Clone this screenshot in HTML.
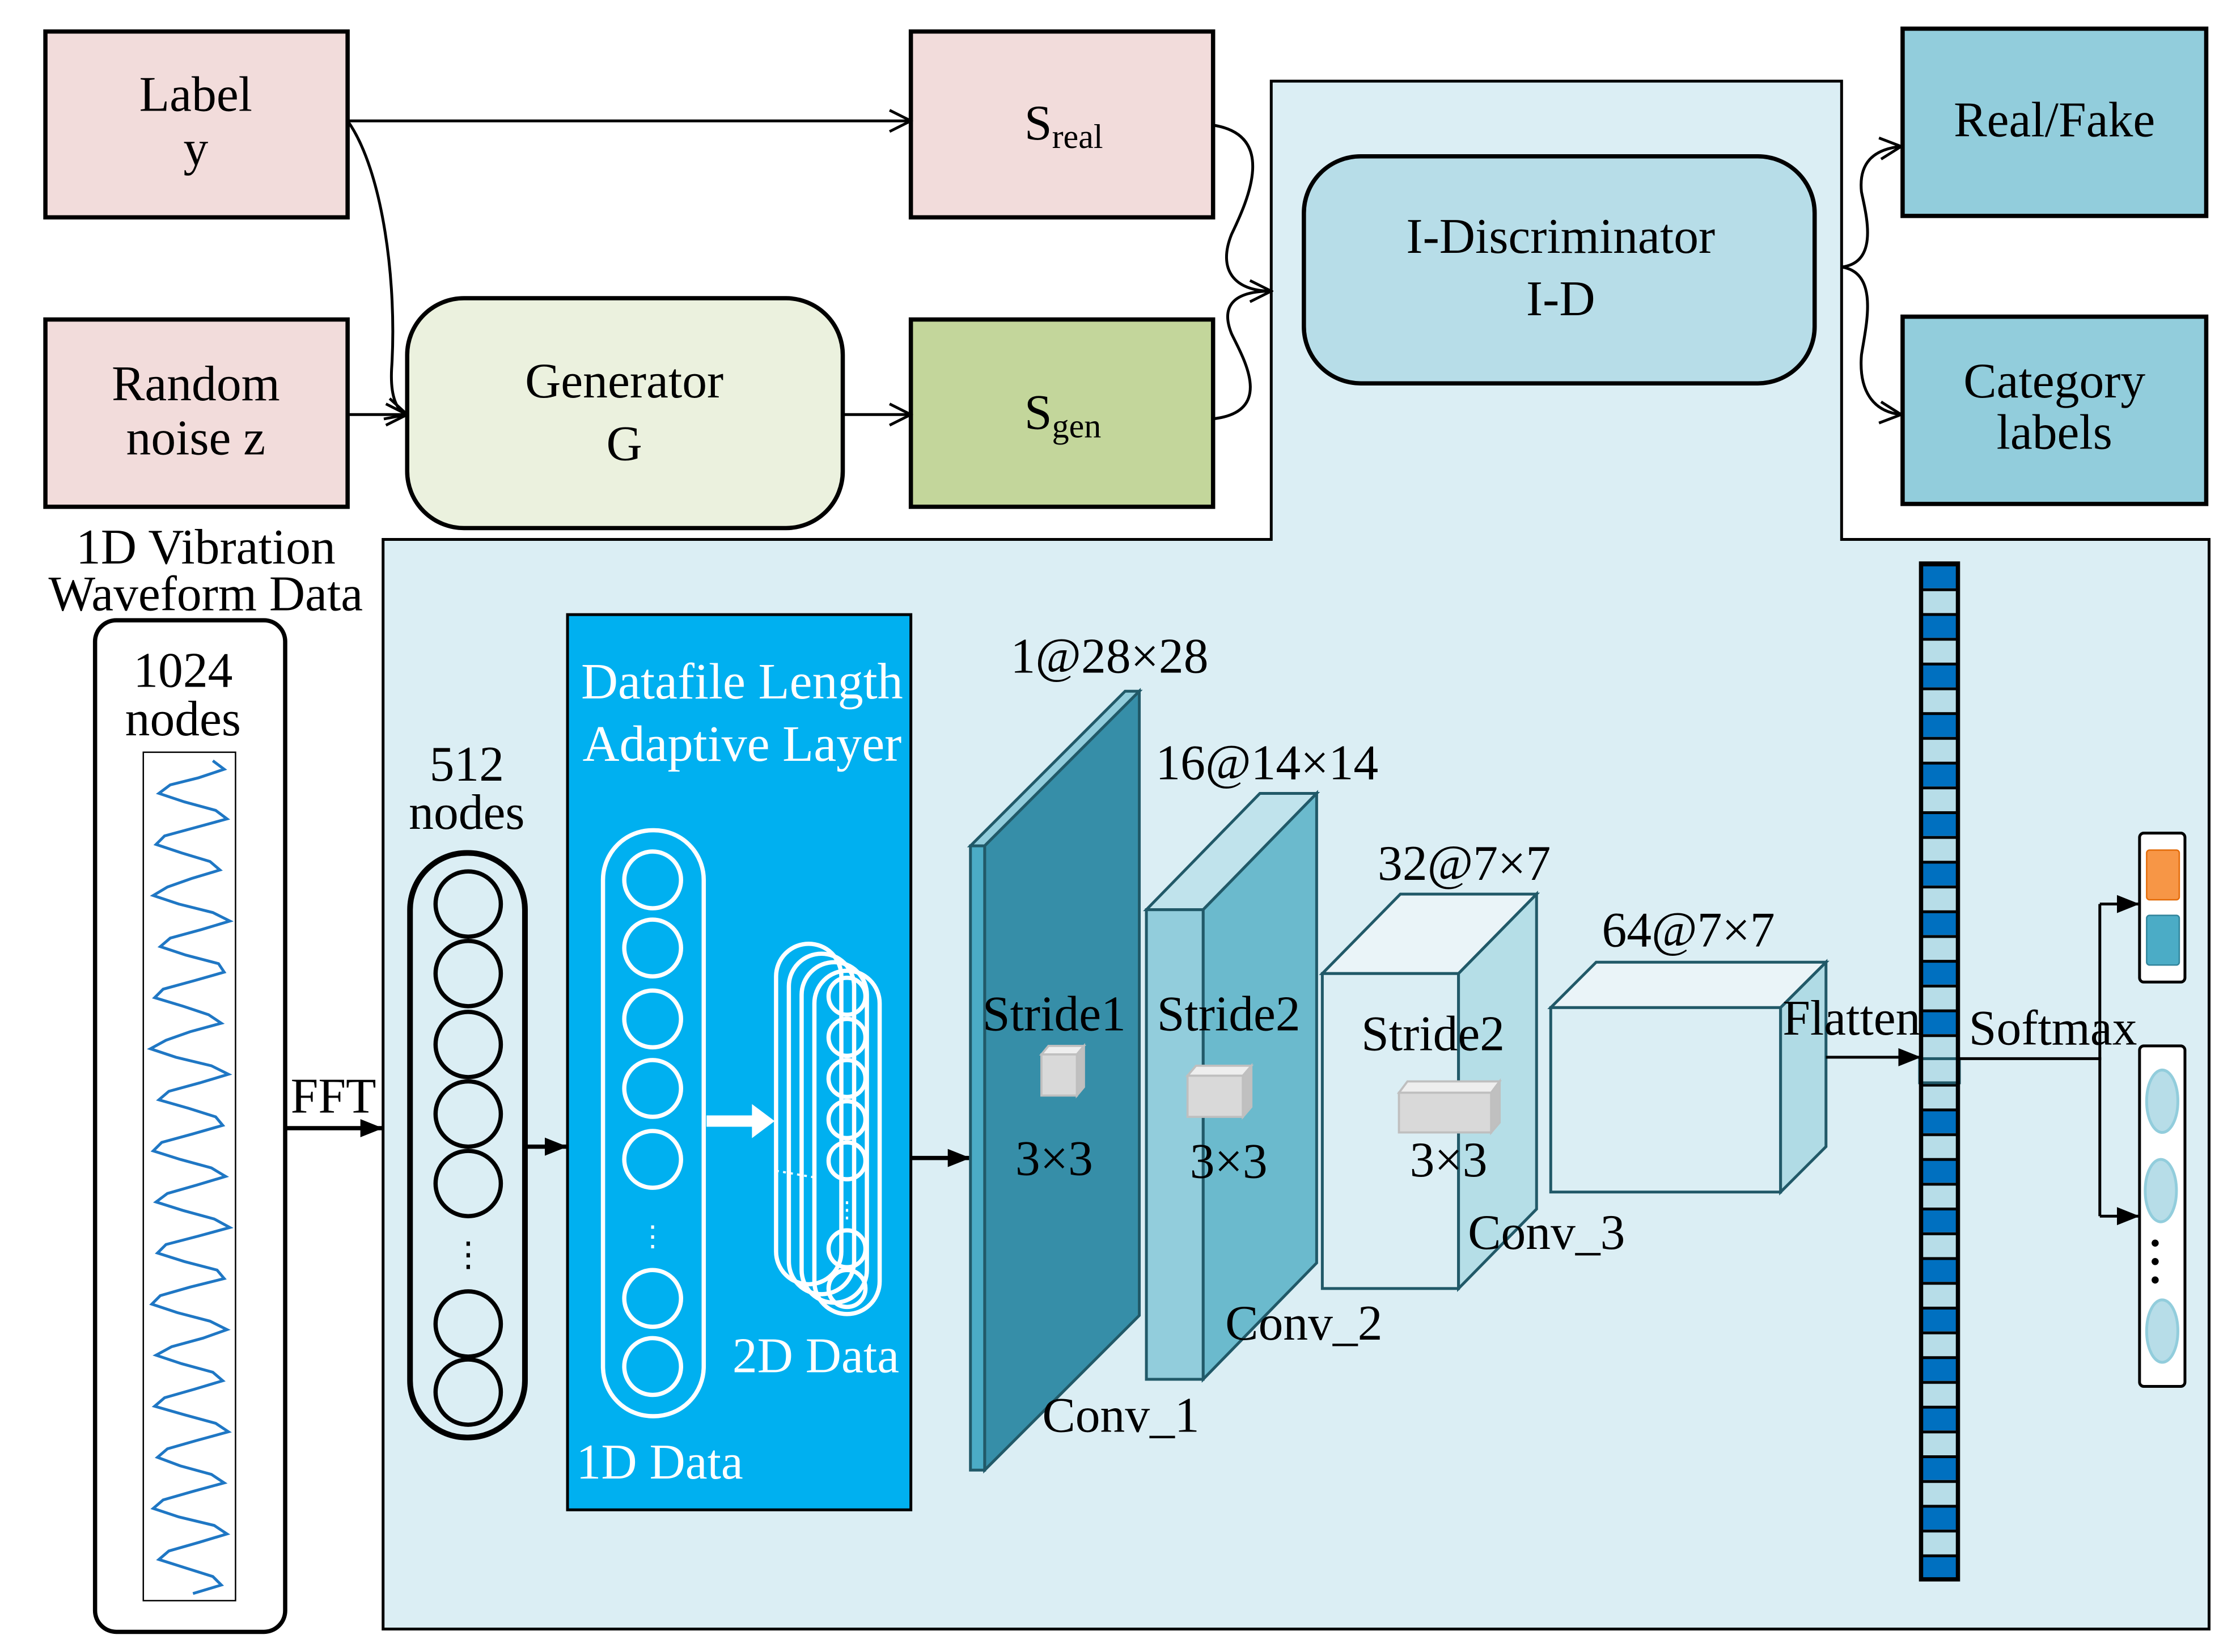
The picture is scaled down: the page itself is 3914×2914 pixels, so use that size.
<!DOCTYPE html>
<html><head><meta charset="utf-8"><style>
html,body{margin:0;padding:0;background:#fff}
svg{display:block}
text{font-family:"Liberation Serif",serif;fill:#000}
</style></head><body>
<svg width="3914" height="2914" viewBox="0 0 1564 1164" xmlns="http://www.w3.org/2000/svg">
<defs>
<marker id="ah2" viewBox="0 0 10 10" refX="10" refY="5" markerWidth="16" markerHeight="16" markerUnits="userSpaceOnUse" orient="auto"><path d="M0,1L10,5L0,9z" fill="#000"/></marker>
<marker id="oa" viewBox="0 0 12 12" refX="11" refY="6" markerWidth="18" markerHeight="18" markerUnits="userSpaceOnUse" orient="auto"><path d="M1,1L11,6L1,11" fill="none" stroke="#000" stroke-width="1.3"/></marker>
<pattern id="cells" patternUnits="userSpaceOnUse" x="1354" y="397" width="26" height="34.92">
<rect x="0" y="0" width="26" height="17.46" fill="#0070c0"/>
<rect x="0" y="17.46" width="26" height="17.46" fill="#b7dde8"/>
<rect x="0" y="0" width="26" height="2" fill="#000"/>
<rect x="0" y="17.46" width="26" height="2" fill="#000"/>
</pattern>
</defs>
<rect width="1564" height="1164" fill="#fff"/>
<path d="M896,57H1298V380H1557V1148H270V380H896Z" fill="#dbeef4" stroke="#000" stroke-width="2"/>
<rect x="32" y="22" width="213" height="131" fill="#f2dcdb" stroke="#000" stroke-width="3"/>
<text x="138" y="78" font-size="35" text-anchor="middle">Label</text>
<text x="138" y="116" font-size="35" text-anchor="middle">y</text>
<rect x="32" y="225" width="213" height="132" fill="#f2dcdb" stroke="#000" stroke-width="3"/>
<text x="138" y="282" font-size="35" text-anchor="middle">Random</text>
<text x="138" y="320" font-size="35" text-anchor="middle">noise z</text>
<rect x="287" y="210" width="307" height="162" rx="40" fill="#ebf1de" stroke="#000" stroke-width="3"/>
<text x="440" y="280" font-size="35" text-anchor="middle">Generator</text>
<text x="440" y="324" font-size="35" text-anchor="middle">G</text>
<rect x="642" y="22" width="213" height="131" fill="#f2dcdb" stroke="#000" stroke-width="3"/>
<text x="722" y="98" font-size="35">S<tspan font-size="24" dy="6">real</tspan></text>
<rect x="642" y="225" width="213" height="132" fill="#c3d69b" stroke="#000" stroke-width="3"/>
<text x="722" y="302" font-size="35">S<tspan font-size="24" dy="6">gen</tspan></text>
<rect x="919" y="110" width="360" height="160" rx="40" fill="#b7dde8" stroke="#000" stroke-width="3"/>
<text x="1100" y="178" font-size="35" text-anchor="middle">I-Discriminator</text>
<text x="1100" y="222" font-size="35" text-anchor="middle">I-D</text>
<rect x="1341" y="20" width="214" height="132" fill="#92cddc" stroke="#000" stroke-width="3"/>
<text x="1448" y="96" font-size="35" text-anchor="middle">Real/Fake</text>
<rect x="1341" y="223" width="214" height="132" fill="#92cddc" stroke="#000" stroke-width="3"/>
<text x="1448" y="280" font-size="35" text-anchor="middle">Category</text>
<text x="1448" y="316" font-size="35" text-anchor="middle">labels</text>
<g fill="none" stroke="#000" stroke-width="2">
<line x1="245" y1="85" x2="642" y2="85" marker-end="url(#oa)"/>
<path d="M245,85 C270,120 280,200 276,260 C275,280 280,290 287,292" marker-end="url(#oa)"/>
<line x1="245" y1="292" x2="287" y2="292" marker-end="url(#oa)"/>
<line x1="594" y1="292" x2="642" y2="292" marker-end="url(#oa)"/>
<path d="M855,88 C900,95 880,140 868,165 C858,190 870,205 896,205" marker-end="url(#oa)"/>
<path d="M855,295 C900,290 875,250 868,235 C860,215 870,205 896,205"/>
<path d="M1298,188 C1325,185 1315,150 1312,135 C1310,115 1320,105 1340,103" marker-end="url(#oa)"/>
<path d="M1298,188 C1325,192 1315,230 1312,250 C1310,275 1320,290 1340,292" marker-end="url(#oa)"/>
</g>
<text x="145" y="397" font-size="35" text-anchor="middle">1D Vibration</text>
<text x="145" y="430" font-size="35" text-anchor="middle">Waveform Data</text>
<rect x="67" y="437" width="134" height="713" rx="15" fill="#fff" stroke="#000" stroke-width="3"/>
<text x="129" y="484" font-size="35" text-anchor="middle">1024</text>
<text x="129" y="518" font-size="35" text-anchor="middle">nodes</text>
<rect x="101" y="530" width="65" height="598" fill="#fff" stroke="#000" stroke-width="1"/>
<polyline fill="none" stroke="#1f77c4" stroke-width="2" points="150,536 158,542 140,548 120,553 112,559 130,565 152,571 160,577 138,583 116,589 110,595 128,601 148,607 155,613 135,619 118,625 108,631 126,637 150,643 162,649 142,655 120,661 113,667 131,673 154,679 158,685 137,691 115,697 109,703 129,709 147,715 156,721 134,727 117,733 106,739 124,745 149,751 161,757 141,763 119,769 112,775 133,781 152,787 157,793 136,799 114,805 108,811 127,817 149,823 159,829 139,835 118,841 110,847 129,853 151,859 162,865 140,871 117,877 111,883 130,889 153,895 158,901 134,907 113,913 107,919 125,925 148,931 160,937 143,943 121,949 110,955 128,961 150,967 157,973 137,979 116,985 109,991 130,997 152,1003 161,1009 139,1015 118,1021 111,1027 127,1033 149,1039 158,1045 136,1051 115,1057 108,1063 126,1069 151,1075 160,1081 140,1087 119,1093 112,1099 131,1105 150,1111 156,1117 136,1123"/>
<line x1="201" y1="795" x2="270" y2="795" stroke="#000" stroke-width="3" marker-end="url(#ah2)"/>
<text x="235" y="784" font-size="35" text-anchor="middle">FFT</text>
<text x="329" y="550" font-size="35" text-anchor="middle">512</text>
<text x="329" y="584" font-size="35" text-anchor="middle">nodes</text>
<rect x="289" y="601" width="81" height="412" rx="40" fill="none" stroke="#000" stroke-width="4"/>
<g fill="none" stroke="#000" stroke-width="3">
<circle cx="330" cy="637" r="23"/><circle cx="330" cy="686" r="23"/><circle cx="330" cy="736" r="23"/><circle cx="330" cy="785" r="23"/><circle cx="330" cy="834" r="23"/><circle cx="330" cy="933" r="23"/><circle cx="330" cy="981" r="23"/>
</g>
<text x="330" y="892" font-size="24" text-anchor="middle">⋮</text>
<line x1="370" y1="808" x2="400" y2="808" stroke="#000" stroke-width="3" marker-end="url(#ah2)"/>
<rect x="400" y="433" width="242" height="631" fill="#00b0f0" stroke="#000" stroke-width="2"/>
<text x="523" y="492" font-size="36" text-anchor="middle" style="fill:#fff">Datafile Length</text>
<text x="523" y="536" font-size="36" text-anchor="middle" style="fill:#fff">Adaptive Layer</text>
<g fill="none" stroke="#fff" stroke-width="3">
<rect x="425" y="585" width="71" height="413" rx="35"/>
<circle cx="460" cy="620" r="20"/><circle cx="460" cy="668" r="20"/><circle cx="460" cy="718" r="20"/><circle cx="460" cy="767" r="20"/><circle cx="460" cy="817" r="20"/><circle cx="460" cy="915" r="20"/><circle cx="460" cy="963" r="20"/>
<rect x="547" y="665" width="46" height="240" rx="23"/>
<rect x="556" y="672" width="46" height="240" rx="23"/>
<rect x="565" y="678" width="46" height="240" rx="23"/>
<rect x="574" y="684" width="46" height="242" rx="23"/>
<circle cx="597" cy="702" r="13"/><circle cx="597" cy="731" r="13"/><circle cx="597" cy="760" r="13"/><circle cx="597" cy="789" r="13"/><circle cx="597" cy="818" r="13"/><circle cx="597" cy="880" r="13"/><circle cx="597" cy="908" r="13"/>
</g>
<line x1="547" y1="825" x2="576" y2="830" stroke="#fff" stroke-width="1.5" stroke-dasharray="2,3"/>
<text x="460" y="878" font-size="20" text-anchor="middle" style="fill:#fff">⋮</text>
<text x="597" y="858" font-size="16" text-anchor="middle" style="fill:#fff">⋮</text>
<path d="M498,786H530V778L546,790L530,802V794H498Z" fill="#fff"/>
<text x="575" y="967" font-size="35" text-anchor="middle" style="fill:#fff">2D Data</text>
<text x="465" y="1042" font-size="35" text-anchor="middle" style="fill:#fff">1D Data</text>
<line x1="642" y1="816" x2="684" y2="816" stroke="#000" stroke-width="3" marker-end="url(#ah2)"/>
<g stroke="#215968" stroke-width="2">
<path d="M684,596L793,487H803L694,596Z" fill="#92cddc"/>
<path d="M694,596L803,487V927L694,1036Z" fill="#368ea8"/>
<rect x="684" y="596" width="10" height="440" fill="#4bacc6"/>
<path d="M808,641L888,559H928L848,641Z" fill="#c0e3ec"/>
<path d="M848,641L928,559V890L848,972Z" fill="#6bbacd"/>
<rect x="808" y="641" width="40" height="331" fill="#92cddc"/>
<path d="M932,686L987,630H1083L1028,686Z" fill="#eaf4f8"/>
<rect x="932" y="686" width="96" height="222" fill="#dbeef4"/>
<path d="M1028,686L1083,630V852L1028,908Z" fill="#b0dbe5" fill-opacity="0.9"/>
<path d="M1093,710L1125,678H1287L1255,710Z" fill="#eaf4f8"/>
<rect x="1093" y="710" width="162" height="130" fill="#dbeef4"/>
<path d="M1255,710L1287,678V808L1255,840Z" fill="#b0dbe5"/>
</g>
<g stroke="#bfbfbf" stroke-width="1.5">
<path d="M734,743L739,737H764L759,743Z" fill="#eee"/><path d="M759,743L764,737V766L759,772Z" fill="#c0c0c0"/><rect x="734" y="743" width="25" height="29" fill="#d9d9d9"/>
<path d="M837,758L843,751H882L876,758Z" fill="#eee"/><path d="M876,758L882,751V780L876,787Z" fill="#c0c0c0"/><rect x="837" y="758" width="39" height="29" fill="#d9d9d9"/>
<path d="M986,770L992,762H1057L1051,770Z" fill="#eee"/><path d="M1051,770L1057,762V791L1051,798Z" fill="#c0c0c0"/><rect x="986" y="770" width="65" height="28" fill="#d9d9d9"/>
</g>
<g font-size="35" text-anchor="middle">
<text x="782" y="474">1@28×28</text>
<text x="743" y="726">Stride1</text>
<text x="743" y="828">3×3</text>
<text x="790" y="1009">Conv_1</text>
<text x="893" y="549">16@14×14</text>
<text x="866" y="726">Stride2</text>
<text x="866" y="830">3×3</text>
<text x="919" y="944">Conv_2</text>
<text x="1032" y="620">32@7×7</text>
<text x="1010" y="740">Stride2</text>
<text x="1021" y="829">3×3</text>
<text x="1090" y="880">Conv_3</text>
<text x="1190" y="667">64@7×7</text>
<text x="1305" y="729">Flatten</text>
<text x="1447" y="736">Softmax</text>
</g>
<rect x="1354" y="397" width="26" height="716" fill="url(#cells)"/>
<rect x="1353" y="746" width="28" height="17" fill="#b7dde8" stroke="#215968" stroke-width="2"/>
<rect x="1354" y="397" width="26" height="716" fill="none" stroke="#000" stroke-width="3"/>
<line x1="1287" y1="745" x2="1354" y2="745" stroke="#000" stroke-width="2" marker-end="url(#ah2)"/>
<g fill="none" stroke="#000" stroke-width="2">
<line x1="1380" y1="746" x2="1481" y2="746"/>
<line x1="1480" y1="637" x2="1480" y2="857"/>
<line x1="1480" y1="637" x2="1508" y2="637" marker-end="url(#ah2)"/>
<line x1="1480" y1="857" x2="1508" y2="857" marker-end="url(#ah2)"/>
</g>
<rect x="1508" y="587" width="32" height="105" rx="3" fill="#fff" stroke="#000" stroke-width="2"/>
<rect x="1513" y="599" width="23" height="35" rx="2" fill="#f79646" stroke="#e46c0a"/>
<rect x="1513" y="645" width="23" height="35" rx="2" fill="#4bacc6" stroke="#31859c"/>
<rect x="1508" y="737" width="32" height="240" rx="3" fill="#fff" stroke="#000" stroke-width="2"/>
<g fill="#b7dde8" stroke="#92cddc" stroke-width="2">
<ellipse cx="1524" cy="776" rx="11" ry="22"/><ellipse cx="1523" cy="839" rx="11" ry="22"/><ellipse cx="1524" cy="938" rx="11" ry="22"/>
</g>
<g fill="#000"><circle cx="1519" cy="876" r="2.5"/><circle cx="1519" cy="889" r="2.5"/><circle cx="1519" cy="902" r="2.5"/></g>
</svg>
</body></html>
